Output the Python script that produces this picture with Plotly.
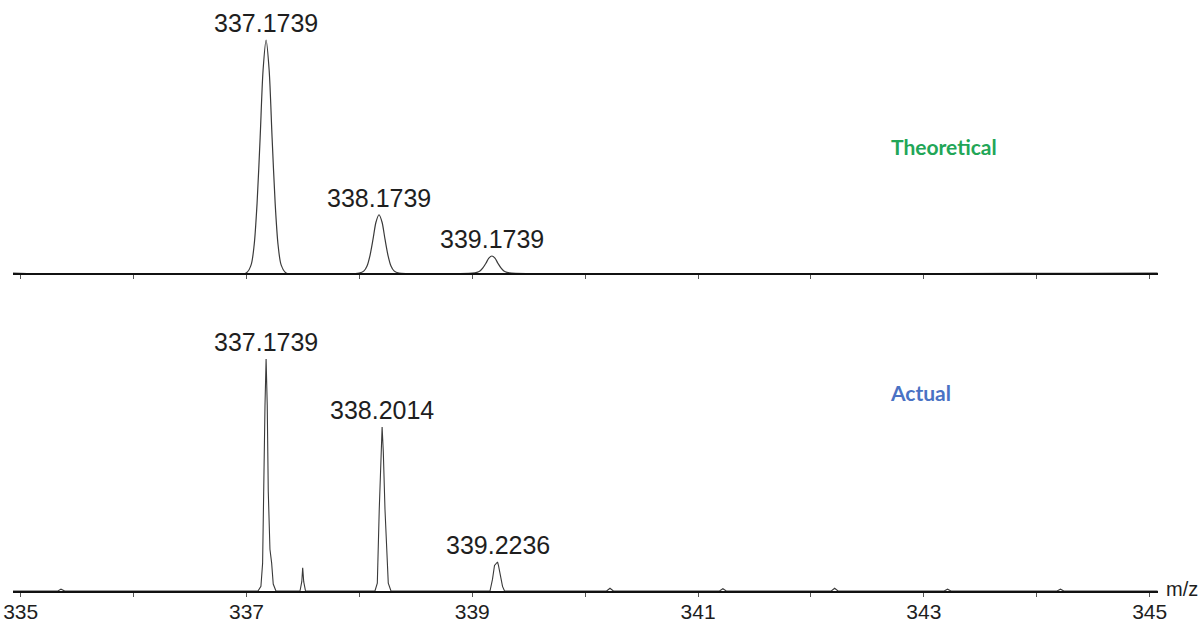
import plotly.graph_objects as go

# ---- Theoretical isotope pattern (profile points, m/z vs relative intensity) ----
theo_peak_mz = [337.1739, 338.1739, 339.1739]
theo_peak_int = [100.0, 25.0, 7.3]

theo_mz = [
    334.93,
    336.997, 337.041, 337.068, 337.094, 337.121, 337.147, 337.1739,
    337.201, 337.227, 337.254, 337.280, 337.307, 337.351,
    337.997, 338.041, 338.068, 338.094, 338.121, 338.147, 338.1739,
    338.201, 338.227, 338.254, 338.280, 338.307, 338.351,
    338.997, 339.041, 339.068, 339.094, 339.121, 339.147, 339.1739,
    339.201, 339.227, 339.254, 339.280, 339.307, 339.351,
    345.07,
]
theo_int = [
    0,
    0, 3.5, 12, 30, 58, 87, 100,
    87, 58, 30, 12, 3.5, 0,
    0, 0.9, 3.0, 7.5, 14.5, 21.8, 25.0,
    21.8, 14.5, 7.5, 3.0, 0.9, 0,
    0, 0.3, 0.9, 2.2, 4.2, 6.4, 7.3,
    6.4, 4.2, 2.2, 0.9, 0.3, 0,
    0,
]

# ---- Measured spectrum (profile points) ----
act_peak_mz = [337.1739, 338.2014, 339.2236]
act_peak_int = [100.0, 70.7, 12.5]

act_mz = [
    334.93, 335.33, 335.357, 335.39,
    337.102, 337.128, 337.143, 337.151, 337.164, 337.1739,
    337.184, 337.193, 337.208, 337.223, 337.237, 337.261,
    337.474, 337.490, 337.498, 337.507, 337.523,
    338.138, 338.159, 338.176, 338.191, 338.2014,
    338.212, 338.227, 338.256, 338.280,
    339.157, 339.179, 339.197, 339.2236, 339.232, 339.250, 339.268, 339.286,
    340.19, 340.22, 340.25,
    341.19, 341.22, 341.25,
    342.18, 342.21, 342.24,
    343.18, 343.21, 343.24,
    344.18, 344.21, 344.24,
    345.07,
]
act_int = [
    0, 0, 0.8, 0,
    0, 2, 12, 43, 80, 100,
    80, 43, 18, 12, 3, 0,
    0, 4, 10, 4, 0,
    0, 3.4, 35, 60, 70.7,
    60, 35, 3.4, 0,
    0, 5, 11, 12.5, 11, 6, 2, 0,
    0, 1.2, 0,
    0, 1.0, 0,
    0, 1.2, 0,
    0, 0.8, 0,
    0, 0.8, 0,
    0,
]

tick_vals = list(range(335, 346))
tick_text = [str(v) if v % 2 == 1 else "" for v in tick_vals]

X_RANGE = [334.932, 345.074]
LABEL_FONT = dict(family="Liberation Sans, Arial, sans-serif", size=25, color="#1e1e1e")

W, H = 1201, 624
ML, MR, MT, MB = 13, 43, 10, 33
PW, PH = W - ML - MR, H - MT - MB


def px_to_paper(px, py):
    return (px - ML) / PW, (H - MB - py) / PH


fig = go.Figure()

fig.add_trace(go.Scatter(
    x=theo_mz, y=theo_int, mode="lines",
    line=dict(color="#3a3a3a", width=1.2, shape="spline", smoothing=0.8),
    xaxis="x", yaxis="y", hoverinfo="skip", showlegend=False,
))
fig.add_trace(go.Scatter(
    x=act_mz, y=act_int, mode="lines",
    line=dict(color="#3a3a3a", width=1.1),
    xaxis="x2", yaxis="y2", hoverinfo="skip", showlegend=False,
))

annotations = []
for mz, h in zip(theo_peak_mz, theo_peak_int):
    annotations.append(dict(
        x=mz, y=h, xref="x", yref="y", text=f"{mz:.4f}", showarrow=False,
        xanchor="center", yanchor="bottom", yshift=1, font=LABEL_FONT,
    ))
for mz, h in zip(act_peak_mz, act_peak_int):
    annotations.append(dict(
        x=mz, y=h, xref="x2", yref="y2", text=f"{mz:.4f}", showarrow=False,
        xanchor="center", yanchor="bottom", yshift=1, font=LABEL_FONT,
    ))

side_labels = [
    ("<b>Theoretical</b>", 944, 147, "center",
     dict(family="Lato, Open Sans, sans-serif", size=21, color="#22a657")),
    ("<b>Actual</b>", 920, 392, "center",
     dict(family="Lato, Open Sans, sans-serif", size=21, color="#4a72c4")),
    ("m/z", 1164, 589, "left",
     dict(family="Liberation Sans, Arial, sans-serif", size=20, color="#1e1e1e")),
]
for text, px, py, xa, font in side_labels:
    ax, ay = px_to_paper(px, py)
    annotations.append(dict(
        x=ax, y=ay, xref="paper", yref="paper", text=text, showarrow=False,
        xanchor=xa, yanchor="middle", font=font,
    ))

axis_common = dict(
    range=X_RANGE, showgrid=False, zeroline=False, showline=True,
    linecolor="#111111", ticks="outside", ticklen=4, tickcolor="#555555",
    tickwidth=1, tickvals=tick_vals, automargin=False,
)

fig.update_layout(
    width=W, height=H,
    margin=dict(l=ML, r=MR, t=MT, b=MB, autoexpand=False),
    paper_bgcolor="white", plot_bgcolor="white",
    xaxis=dict(**axis_common, anchor="y", linewidth=2, showticklabels=False),
    xaxis2=dict(**axis_common, anchor="y2", linewidth=1.5, ticktext=tick_text,
                ticklabelstandoff=-3,
                tickfont=dict(family="Liberation Sans, Arial, sans-serif", size=21, color="#1e1e1e")),
    yaxis=dict(domain=[0.5473, 0.9604], range=[0, 103], visible=False, fixedrange=True),
    yaxis2=dict(domain=[0.0, 0.4113], range=[0, 103], visible=False, fixedrange=True),
    annotations=annotations,
)

fig.write_html("out.html")
